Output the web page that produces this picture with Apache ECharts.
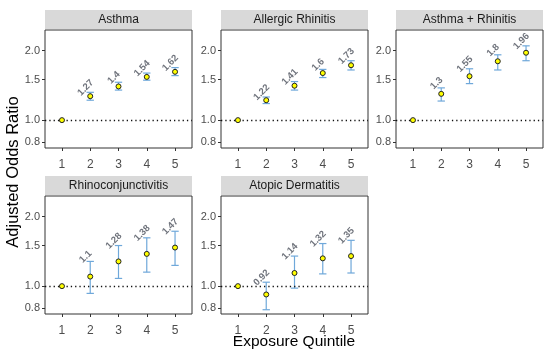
<!DOCTYPE html>
<html><head><meta charset="utf-8">
<script src="https://cdn.jsdelivr.net/npm/echarts@6/dist/echarts.min.js"></script>
<style>html,body{margin:0;padding:0;background:#fff}#c{width:550px;height:351px}</style>
</head><body><div id="c"></div>
<script>
// ---- data ----
const quintiles = [1, 2, 3, 4, 5];
const panelNames = ['Asthma', 'Allergic Rhinitis', 'Asthma + Rhinitis', 'Rhinoconjunctivitis', 'Atopic Dermatitis'];
const yTicks = [0.8, 1.0, 1.5, 2.0];
const yLimits = [0.757, 2.46];

const asthmaOR = [1, 1.27, 1.40, 1.54, 1.62];
const asthmaLo = [1, 1.22, 1.35, 1.49, 1.56];
const asthmaHi = [1, 1.32, 1.46, 1.60, 1.69];

const rhinitisOR = [1, 1.22, 1.41, 1.60, 1.73];
const rhinitisLo = [1, 1.18, 1.35, 1.53, 1.65];
const rhinitisHi = [1, 1.26, 1.47, 1.66, 1.81];

const bothOR = [1, 1.30, 1.55, 1.80, 1.96];
const bothLo = [1, 1.21, 1.44, 1.65, 1.81];
const bothHi = [1, 1.38, 1.67, 1.92, 2.10];

const conjOR = [1, 1.10, 1.28, 1.38, 1.47];
const conjLo = [1, 0.93, 1.08, 1.15, 1.23];
const conjHi = [1, 1.28, 1.50, 1.62, 1.73];

const dermOR = [1, 0.92, 1.14, 1.32, 1.35];
const dermLo = [1, 0.79, 0.98, 1.13, 1.14];
const dermHi = [1, 1.04, 1.35, 1.53, 1.58];

const panelData = [
  [asthmaOR, asthmaLo, asthmaHi],
  [rhinitisOR, rhinitisLo, rhinitisHi],
  [bothOR, bothLo, bothHi],
  [conjOR, conjLo, conjHi],
  [dermOR, dermLo, dermHi]
];

// ---- layout ----
const W = 147, H = 118;
const layout = [[45, 30], [221, 30], [396, 30], [45, 196], [221, 196]];
const ln = Math.log;
const ebColor = '#6FA8DA';

const grids = [], xAxes = [], yAxes = [], series = [], graphics = [];
panelNames.forEach((name, i) => {
  const [L, T] = layout[i];
  const [or, lo, hi] = panelData[i];
  grids.push({left: L, top: T, width: W, height: H, show: true, borderColor: '#333', borderWidth: 1, backgroundColor: '#fff'});
  xAxes.push({
    gridIndex: i, type: 'value', min: 0.4, max: 5.6, position: 'bottom',
    axisLine: {show: false, onZero: false}, splitLine: {show: false},
    axisTick: {show: true, length: 3, lineStyle: {color: '#333'}, customValues: quintiles},
    axisLabel: {customValues: quintiles, color: '#4D4D4D', fontSize: 12, margin: 11, fontFamily: 'Liberation Sans, Arial'}
  });
  yAxes.push({
    gridIndex: i, type: 'value', min: ln(yLimits[0]), max: ln(yLimits[1]), position: 'left',
    axisLine: {show: false, onZero: false}, splitLine: {show: false},
    axisTick: {show: true, length: 3, lineStyle: {color: '#333'}, customValues: yTicks.map(ln)},
    axisLabel: {customValues: yTicks.map(ln), color: '#4D4D4D', fontSize: 11, margin: 5, fontFamily: 'Liberation Sans, Arial',
      formatter: v => Math.exp(v).toFixed(1)}
  });
  // error bars
  series.push({
    type: 'custom', xAxisIndex: i, yAxisIndex: i, z: 3,
    data: quintiles.map((q, k) => [q, ln(lo[k]), ln(hi[k])]).filter((d) => d[1] !== d[2]),
    renderItem: (params, api) => {
      const x = api.value(0);
      const p1 = api.coord([x, api.value(1)]);
      const p2 = api.coord([x, api.value(2)]);
      const hw = api.size([0.13, 0])[0];
      const st = {stroke: ebColor, lineWidth: 1.2};
      return {type: 'group', children: [
        {type: 'line', shape: {x1: p1[0], y1: p1[1], x2: p2[0], y2: p2[1]}, style: st},
        {type: 'line', shape: {x1: p1[0] - hw, y1: p1[1], x2: p1[0] + hw, y2: p1[1]}, style: st},
        {type: 'line', shape: {x1: p2[0] - hw, y1: p2[1], x2: p2[0] + hw, y2: p2[1]}, style: st}
      ]};
    },
    markLine: {silent: true, symbol: 'none', label: {show: false}, animation: false,
      lineStyle: {color: '#111', type: [1.3, 3], width: 1.3},
      data: [{yAxis: 0}]}
  });
  // points
  series.push({
    type: 'scatter', xAxisIndex: i, yAxisIndex: i, z: 5, symbol: 'circle', symbolSize: 5,
    itemStyle: {color: '#FFFF00', borderColor: '#222', borderWidth: 1, opacity: 1},
    data: quintiles.map((q, k) => [q, ln(or[k])])
  });
  // value labels
  series.push({
    type: 'scatter', xAxisIndex: i, yAxisIndex: i, z: 6, symbolSize: 0,
    data: quintiles.map((q, k) => [q, ln(hi[k]), or[k]]).filter((d) => d[0] > 1),
    label: {show: true, position: 'inside', rotate: 45, offset: [0, -6.5],
      formatter: p => String(p.value[2]), fontSize: 9.5, fontWeight: 'bold', color: '#4A4F5A',
      fontFamily: 'Liberation Sans, Arial'}
  });
  // strip
  graphics.push({type: 'rect', shape: {x: L, y: T - 20, width: W, height: 19}, style: {fill: '#D9D9D9'}, silent: true});
  graphics.push({type: 'text', x: L + W / 2, y: T - 10.5, style: {text: name, fill: '#1A1A1A', font: '12px "Liberation Sans", Arial', textAlign: 'center', textVerticalAlign: 'middle'}, silent: true});
});

graphics.push({type: 'text', x: 13.5, y: 172, rotation: Math.PI / 2,
  style: {text: 'Adjusted Odds Ratio', fill: '#000', font: '16.5px "Liberation Sans", Arial', textAlign: 'center', textVerticalAlign: 'middle'}});
graphics.push({type: 'text', x: 294, y: 342,
  style: {text: 'Exposure Quintile', fill: '#000', font: '15.5px "Liberation Sans", Arial', textAlign: 'center', textVerticalAlign: 'middle'}});

const chart = echarts.init(document.getElementById('c'), null, {renderer: 'canvas'});
chart.setOption({
  animation: false,
  backgroundColor: '#fff',
  grid: grids, xAxis: xAxes, yAxis: yAxes, series: series,
  graphic: graphics
});
</script></body></html>
